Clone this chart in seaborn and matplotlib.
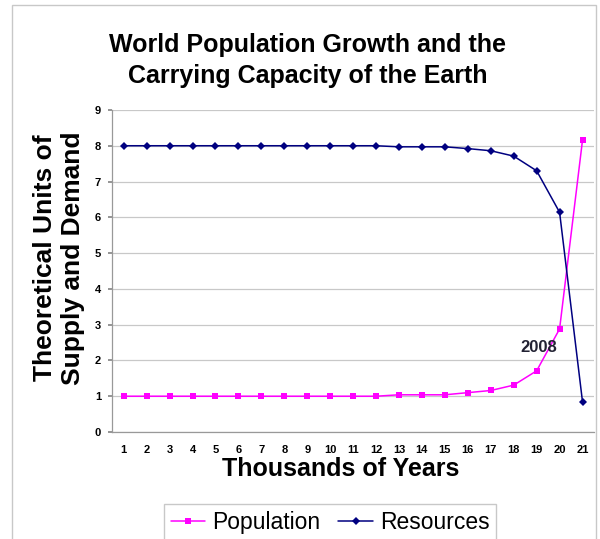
import pandas as pd
import numpy as np
import seaborn as sns
import matplotlib.pyplot as plt
from matplotlib.patches import Rectangle

# Data
years = list(range(1, 22))
population = [1.0, 1.0, 1.0, 1.0, 1.0, 1.0, 1.0, 1.0, 1.0, 1.0, 1.0, 1.0,
              1.04, 1.04, 1.04, 1.10, 1.16, 1.31, 1.71, 2.88, 8.16]
resources = [8.0, 8.0, 8.0, 8.0, 8.0, 8.0, 8.0, 8.0, 8.0, 8.0, 8.0, 8.0,
             7.97, 7.97, 7.97, 7.92, 7.86, 7.71, 7.30, 6.14, 0.84]

df = pd.DataFrame({
    "Year": years * 2,
    "Value": population + resources,
    "Series": ["Population"] * len(years) + ["Resources"] * len(years),
})

sns.set_theme(style="white")
plt.rcParams['font.family'] = ['Liberation Sans', 'DejaVu Sans']
plt.rcParams['text.color'] = 'black'
plt.rcParams['xtick.color'] = 'black'
plt.rcParams['ytick.color'] = 'black'
plt.rcParams['axes.labelcolor'] = 'black'

fig = plt.figure(figsize=(6.0, 5.39), dpi=100)

# light outer chart border
fig.patches.append(Rectangle((12 / 600, -0.05), 584 / 600, 1 - 5 / 539 + 0.05,
                             transform=fig.transFigure, fill=False,
                             edgecolor="#c8c8c8", linewidth=1.0))

ax = fig.add_axes([0.187, 0.1985, 0.803, 0.5975])

palette = {"Population": "#FF00FF", "Resources": "#000080"}
markers = {"Population": "s", "Resources": "D"}
sns.lineplot(data=df, x="Year", y="Value", hue="Series", style="Series",
             palette=palette, markers=markers, dashes=False, markersize=4.5,
             markeredgewidth=0, linewidth=1.1, ax=ax)

ax.set_xlim(0.5, 21.5)
ax.set_ylim(0, 9)
ax.set_yticks(range(0, 10))
ax.set_xticks(years)
ax.set_xticks(np.arange(0.5, 22, 1), minor=True)
ax.tick_params(axis="x", which="major", length=0, pad=9, labelsize=8)
ax.tick_params(axis="x", which="minor", length=3, color="#888888", direction="out")
ax.tick_params(axis="y", length=3, color="#888888", direction="out", labelsize=8,
               left=True, pad=5)
for lab in ax.get_xticklabels() + ax.get_yticklabels():
    lab.set_fontweight("bold")

ax.grid(axis="y", color="#c8c8c8", linewidth=0.9)
ax.set_axisbelow(True)
for side in ["top", "right"]:
    ax.spines[side].set_visible(False)
for side in ["left", "bottom"]:
    ax.spines[side].set_color("#999999")
    ax.spines[side].set_linewidth(0.9)

ax.set_xlabel("Thousands of Years", fontsize=18, fontweight="bold")
ax.xaxis.set_label_coords(0.475, -0.078)
ax.set_ylabel("Theoretical Units of\nSupply and Demand", fontsize=19,
              fontweight="bold", linespacing=1.2)
ax.yaxis.set_label_coords(-0.056, 0.54)

fig.text(0.513, 0.888, "World Population Growth and the\nCarrying Capacity of the Earth",
         ha="center", va="center", fontsize=18, fontweight="bold", linespacing=1.4)

ax.text(19.1, 2.35, "2008", fontsize=12, fontweight="bold", color="#222233",
        ha="center", va="center")

ax.get_legend().remove()
handles, labels = ax.get_legend_handles_labels()
fig.legend(handles, labels, loc="lower center", bbox_to_anchor=(0.55, -0.025),
           ncol=2, fontsize=16.5, frameon=True, fancybox=False, edgecolor="#bbbbbb",
           handlelength=1.5, handletextpad=0.3, columnspacing=0.8, borderpad=0.3)

fig.savefig("out.png", dpi=100)
